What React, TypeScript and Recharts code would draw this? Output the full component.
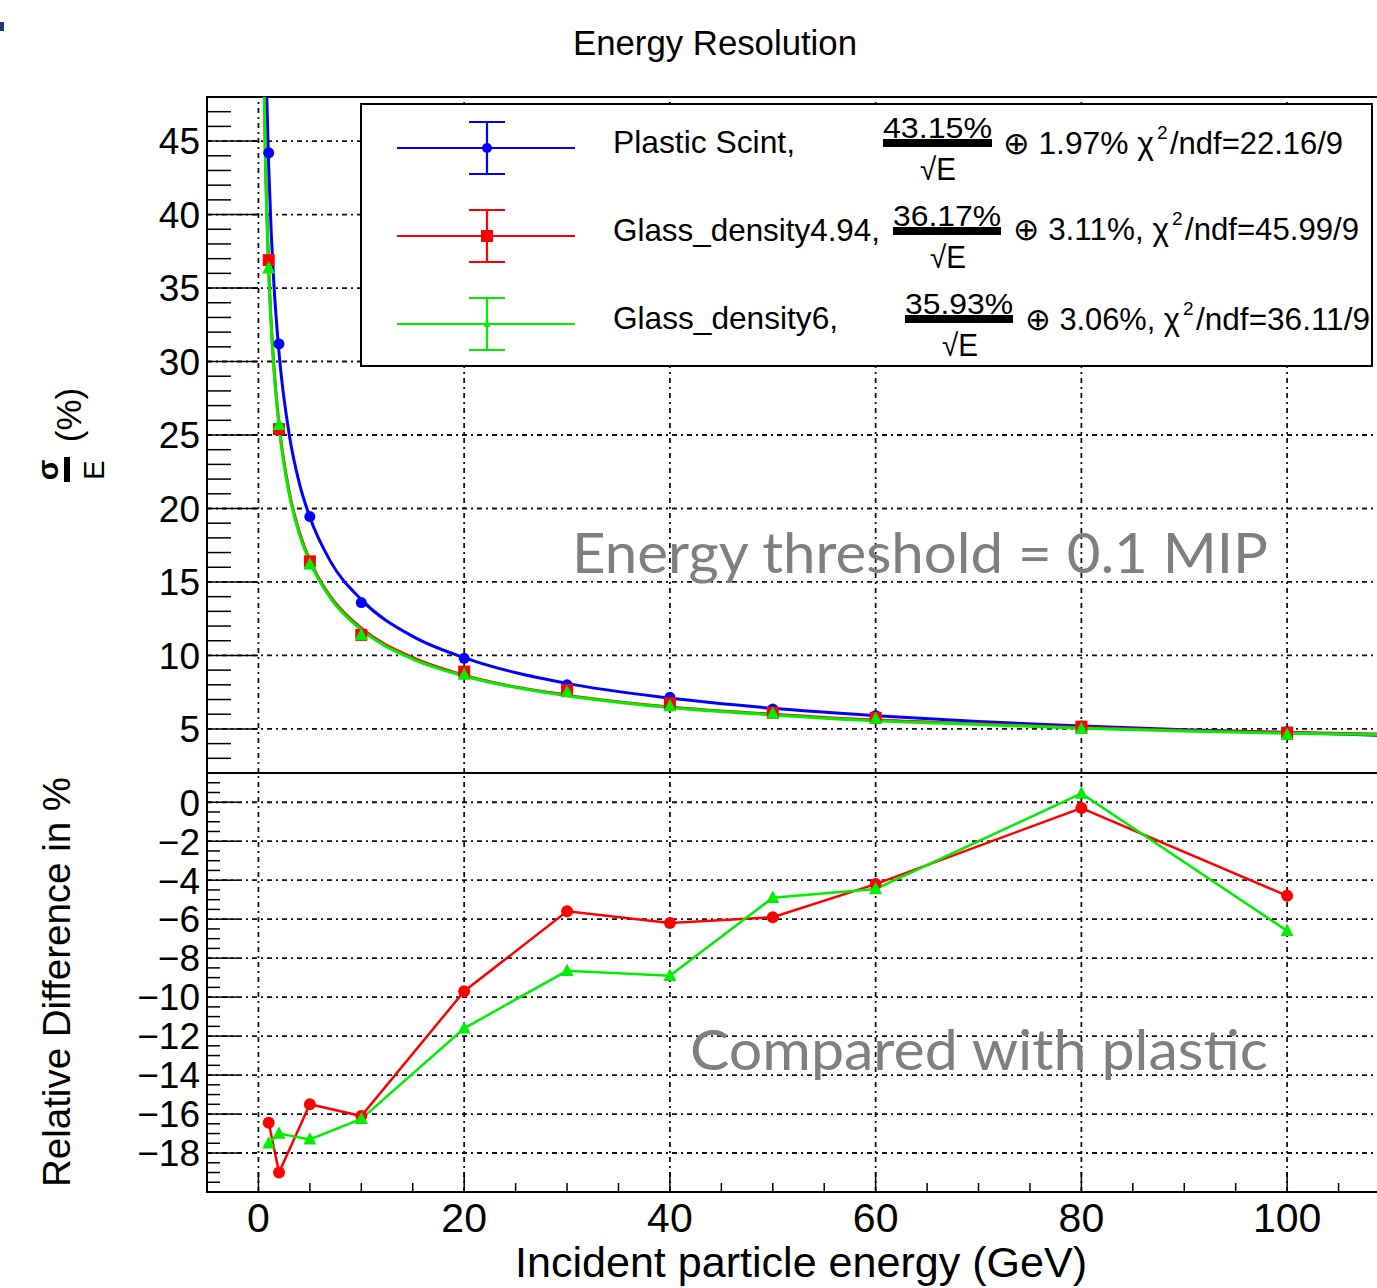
import React from "react";
import {
  ComposedChart,
  Line,
  XAxis,
  YAxis,
  ReferenceLine,
  ReferenceArea,
} from "recharts";

// beam energies (GeV)
const energies = [1, 2, 5, 10, 20, 30, 40, 50, 60, 80, 100];

// measured resolution sigma/E (%)
const plastic = [44.2, 31.2, 19.45, 13.6, 9.8, 8.0, 7.15, 6.35, 5.9, 5.2, 4.8];
const glass494 = [36.9, 25.4, 16.4, 11.4, 8.9, 7.65, 6.75, 6.1, 5.75, 5.15, 4.75];
const glass6 = [36.35, 25.7, 16.2, 11.4, 8.7, 7.5, 6.55, 6.05, 5.7, 5.0, 4.6];

// fit curves
const fitE = [0.5, 0.6, 0.7, 0.8, 1, 1.25, 1.5, 2, 3, 4, 5, 7, 10, 15, 20, 30, 40, 50, 60, 70, 80, 90, 100, 110];
const plasticFit = [61.05, 55.7, 51.6, 48.3, 43.2, 38.65, 35.3, 30.6, 25.0, 21.65, 19.4, 16.4, 13.8, 11.3, 9.85, 8.1, 7.1, 6.4, 5.9, 5.5, 5.2, 4.95, 4.75, 4.55];
const glass494Fit = [51.25, 46.8, 43.35, 40.55, 36.3, 32.5, 29.7, 25.75, 21.1, 18.35, 16.45, 14.0, 11.85, 9.85, 8.65, 7.3, 6.5, 6.0, 5.6, 5.35, 5.1, 4.9, 4.75, 4.65];
const glass6Fit = [50.9, 46.5, 43.05, 40.3, 36.05, 32.3, 29.5, 25.6, 20.95, 18.2, 16.35, 13.9, 11.75, 9.75, 8.6, 7.25, 6.45, 5.95, 5.55, 5.3, 5.05, 4.85, 4.7, 4.6];

// relative difference to plastic (%)
const diffGlass494 = [-16.45, -19.0, -15.5, -16.1, -9.7, -5.6, -6.2, -5.9, -4.2, -0.3, -4.8];
const diffGlass6 = [-17.5, -17.0, -17.3, -16.25, -11.6, -8.65, -8.9, -4.9, -4.45, 0.45, -6.6];

// tick labels
const xLabels = [0, 20, 40, 60, 80, 100];
const topYLabels = [5, 10, 15, 20, 25, 30, 35, 40, 45];
const bottomYLabels = [0, -2, -4, -6, -8, -10, -12, -14, -16, -18];

// legend text
const seriesNames = ["Plastic Scint,", "Glass_density4.94,", "Glass_density6,"];
const stochastic = ["43.15%", "36.17%", "35.93%"];
const constant = ["1.97%", "3.11%,", "3.06%,"];
const chi2 = ["22.16/9", "45.99/9", "36.11/9"];
const colors = ["#0000ff", "#ff0000", "#00ee00"];

const FONT = "'Liberation Sans', Arial, Helvetica, sans-serif";
const GRID = { stroke: "#111", strokeWidth: 1.8, strokeDasharray: "5 4 2 4" };

const X_DOMAIN: [number, number] = [-5, 110];
const xTicks = Array.from({ length: 22 }, (_, i) => i * 5);
const topYTicks = Array.from({ length: 45 }, (_, i) => 3 + i);
const bottomYTicks = Array.from({ length: 42 }, (_, i) => -19.5 + i * 0.5);

const pts = (xs: number[], ys: number[]) => xs.map((e, i) => ({ e, v: ys[i] }));

const minus = (v: number) => (v < 0 ? "\u2212" + Math.abs(v) : String(v));

function Marker({ kind, cx, cy, color, size }: any) {
  if (cx == null || cy == null) return null;
  if (kind === "circle") return <circle cx={cx} cy={cy} r={size / 2} fill={color} />;
  if (kind === "square")
    return <rect x={cx - size / 2} y={cy - size / 2} width={size} height={size} fill={color} />;
  return (
    <polygon
      points={`${cx},${cy - size * 0.55} ${cx - size / 2},${cy + size * 0.4} ${cx + size / 2},${cy + size * 0.4}`}
      fill={color}
    />
  );
}

const makeYTick = (majors: number[], majorLen: number, minorLen: number, fontSize: number) =>
  (props: any) => {
    const { x, y, payload } = props;
    const isMajor = majors.includes(payload.value);
    return (
      <g>
        <line x1={x} x2={x + (isMajor ? majorLen : minorLen)} y1={y} y2={y} stroke="#000" strokeWidth={1.5} />
        {isMajor && (
          <text x={x - 7} y={y} dy="0.36em" textAnchor="end" fontSize={fontSize} fontFamily={FONT} fill="#000">
            {minus(payload.value)}
          </text>
        )}
      </g>
    );
  };

const makeXTick = (majorLen: number, minorLen: number, withLabels: boolean) =>
  (props: any) => {
    const { x, y, payload } = props;
    const isMajor = payload.value % 20 === 0;
    return (
      <g>
        <line x1={x} x2={x} y1={y} y2={y - (isMajor ? majorLen : minorLen)} stroke="#000" strokeWidth={1.5} />
        {withLabels && xLabels.includes(payload.value) && (
          <text x={x} y={y + 40} textAnchor="middle" fontSize={41} fontFamily={FONT} fill="#000">
            {payload.value}
          </text>
        )}
      </g>
    );
  };

const markerLine = (data: any[], kind: string, color: string, size: number, stroke = "none", sw = 0) => (
  <Line
    data={data}
    dataKey="v"
    type="linear"
    stroke={stroke}
    strokeWidth={sw}
    isAnimationActive={false}
    legendType="none"
    dot={(p: any) => <Marker key={p.index} kind={kind} cx={p.cx} cy={p.cy} color={color} size={size} />}
    activeDot={false}
  />
);

function TopPanel() {
  const fits = [plasticFit, glass494Fit, glass6Fit];
  return (
    <ComposedChart width={1400} height={773} margin={{ top: 97, right: 10, bottom: 0, left: 0 }}>
      <XAxis
        type="number"
        dataKey="e"
        domain={X_DOMAIN}
        allowDataOverflow
        ticks={xTicks}
        interval={0}
        height={0}
        axisLine={false}
        tickLine={false}
        tickSize={0}
        tickMargin={0}
        tick={makeXTick(19, 9, false)}
      />
      <YAxis
        type="number"
        dataKey="v"
        domain={[2, 48]}
        allowDataOverflow
        width={207}
        ticks={topYTicks}
        interval={0}
        axisLine={false}
        tickLine={false}
        tickSize={0}
        tickMargin={0}
        tick={makeYTick(topYLabels, 51, 24, 37)}
      />
      {xLabels.map((v) => (
        <ReferenceLine key={"gx" + v} x={v} {...GRID} />
      ))}
      {topYLabels.map((v) => (
        <ReferenceLine key={"gy" + v} y={v} {...GRID} />
      ))}
      {fits.map((f, i) => (
        <Line
          key={"fit" + i}
          data={pts(fitE, f)}
          dataKey="v"
          type="monotone"
          stroke={colors[i]}
          strokeWidth={3}
          dot={false}
          activeDot={false}
          isAnimationActive={false}
          legendType="none"
        />
      ))}
      {markerLine(pts(energies, plastic), "circle", colors[0], 11)}
      {markerLine(pts(energies, glass494), "square", colors[1], 12)}
      {markerLine(pts(energies, glass6), "triangle", colors[2], 13)}
      <ReferenceArea x1={-5} x2={110} y1={2} y2={48} fill="none" stroke="#000" strokeWidth={2} ifOverflow="visible" />
    </ComposedChart>
  );
}

function BottomPanel() {
  return (
    <ComposedChart width={1400} height={515} margin={{ top: 0, right: 10, bottom: 0, left: 0 }}>
      <XAxis
        type="number"
        dataKey="e"
        domain={X_DOMAIN}
        allowDataOverflow
        ticks={xTicks}
        interval={0}
        height={96}
        axisLine={false}
        tickLine={false}
        tickSize={0}
        tickMargin={0}
        tick={makeXTick(20, 9, true)}
      />
      <YAxis
        type="number"
        dataKey="v"
        domain={[-20, 1.5]}
        allowDataOverflow
        width={207}
        ticks={bottomYTicks}
        interval={0}
        axisLine={false}
        tickLine={false}
        tickSize={0}
        tickMargin={0}
        tick={makeYTick(bottomYLabels, 30, 13, 37)}
      />
      {xLabels.map((v) => (
        <ReferenceLine key={"gx" + v} x={v} {...GRID} />
      ))}
      {bottomYLabels.map((v) => (
        <ReferenceLine key={"gy" + v} y={v} {...GRID} />
      ))}
      {markerLine(pts(energies, diffGlass494), "circle", colors[1], 12, colors[1], 2.5)}
      {markerLine(pts(energies, diffGlass6), "triangle", colors[2], 13, colors[2], 2.5)}
      <ReferenceArea x1={-5} x2={110} y1={-20} y2={1.5} fill="none" stroke="#000" strokeWidth={2} ifOverflow="visible" />
    </ComposedChart>
  );
}

// pixel layout of the legend rows (positions only)
const legendLayout = [
  { y: 148, nameW: 182, fracX: 883, fracW: 109, sqrtX: 920, restX: 1003, chiEnd: 1154, tailX: 1170, tailEnd: 1343, dy: 6 },
  { y: 236, nameW: 267, fracX: 893, fracW: 108, sqrtX: 930, restX: 1013, chiEnd: 1169, tailX: 1185, tailEnd: 1359, dy: 4 },
  { y: 324, nameW: 225, fracX: 905, fracW: 108, sqrtX: 942, restX: 1025, chiEnd: 1180, tailX: 1196, tailEnd: 1370, dy: 6 },
];
const legendMarkers = [
  { kind: "circle", size: 10 },
  { kind: "square", size: 12 },
  { kind: "triangle", size: 7 },
];

function LegendBox() {
  return (
    <g fontFamily={FONT} fill="#000">
      <rect x={361} y={104} width={1011} height={262} fill="#fff" stroke="#000" strokeWidth={2} />
      {seriesNames.map((name, i) => {
        const L = legendLayout[i];
        const c = colors[i];
        const base = L.y + L.dy;
        return (
          <g key={name}>
            <line x1={397} x2={575} y1={L.y} y2={L.y} stroke={c} strokeWidth={2.2} />
            <line x1={487} x2={487} y1={L.y - 26} y2={L.y + 26} stroke={c} strokeWidth={2.2} />
            <line x1={469} x2={505} y1={L.y - 26} y2={L.y - 26} stroke={c} strokeWidth={2.2} />
            <line x1={469} x2={505} y1={L.y + 26} y2={L.y + 26} stroke={c} strokeWidth={2.2} />
            <Marker kind={legendMarkers[i].kind} cx={487} cy={L.y} color={c} size={legendMarkers[i].size} />
            <text x={613} y={L.y + 5} fontSize={32} textLength={L.nameW} lengthAdjust="spacingAndGlyphs">
              {name}
            </text>
            <text x={L.fracX} y={L.y - 10} fontSize={30} textLength={L.fracW} lengthAdjust="spacingAndGlyphs">
              {stochastic[i]}
            </text>
            <rect x={L.fracX} y={L.y - 9} width={L.fracW} height={8} fill="#000" />
            <text x={L.sqrtX} y={L.y + 32} fontSize={31} textLength={36} lengthAdjust="spacingAndGlyphs">
              {"\u221AE"}
            </text>
            <text x={L.restX} y={base} fontSize={31} textLength={L.chiEnd - L.restX} lengthAdjust="spacingAndGlyphs">
              {"\u2295 " + constant[i] + " \u03C7"}
            </text>
            <text x={L.chiEnd + 3} y={base - 15} fontSize={19}>
              2
            </text>
            <text x={L.tailX} y={base} fontSize={31} textLength={L.tailEnd - L.tailX} lengthAdjust="spacingAndGlyphs">
              {"/ndf=" + chi2[i]}
            </text>
          </g>
        );
      })}
    </g>
  );
}

function Overlay() {
  return (
    <svg width={1377} height={1288} style={{ position: "absolute", left: 0, top: 0, pointerEvents: "none" }}>
      <rect x={0} y={22} width={4} height={9} fill="#1f3b73" />
      <text x={715} y={55} textAnchor="middle" fontFamily={FONT} fontSize={35} textLength={284} lengthAdjust="spacingAndGlyphs">
        Energy Resolution
      </text>
      <LegendBox />
      {/* sigma/E (%) */}
      <g transform="translate(69,440) rotate(-90)" fontFamily={FONT} fill="#000">
        <text x={-30} y={-11} textAnchor="middle" fontSize={30} fontWeight="bold">
          {"\u03C3"}
        </text>
        <rect x={-42} y={-5} width={25} height={6} fill="#000" />
        <text x={-30} y={35} textAnchor="middle" fontSize={29}>
          E
        </text>
        <text x={25} y={12} textAnchor="middle" fontSize={35}>
          (%)
        </text>
      </g>
      <text
        transform="translate(70,982) rotate(-90)"
        textAnchor="middle"
        fontFamily={FONT}
        fontSize={38}
        textLength={410}
        lengthAdjust="spacingAndGlyphs"
      >
        Relative Difference in %
      </text>
      <text x={801} y={1277} textAnchor="middle" fontFamily={FONT} fontSize={42} textLength={572} lengthAdjust="spacingAndGlyphs">
        Incident particle energy (GeV)
      </text>
      <text x={572} y={573} fontFamily="Lato, 'Open Sans', sans-serif" fontSize={56} fill="#7f7f7f" textLength={696} lengthAdjust="spacingAndGlyphs">
        Energy threshold = 0.1 MIP
      </text>
      <text x={690} y={1070} fontFamily="Lato, 'Open Sans', sans-serif" fontSize={56} fill="#7f7f7f" textLength={578} lengthAdjust="spacingAndGlyphs">
        Compared with plastic
      </text>
    </svg>
  );
}

export default function App() {
  return (
    <div
      style={{
        position: "absolute",
        left: 0,
        top: 0,
        width: 1377,
        height: 1288,
        overflow: "hidden",
        background: "#fff",
        fontFamily: FONT,
      }}
    >
      <div style={{ position: "absolute", left: 0, top: 0 }}>
        <TopPanel />
      </div>
      <div style={{ position: "absolute", left: 0, top: 773 }}>
        <BottomPanel />
      </div>
      <Overlay />
    </div>
  );
}
